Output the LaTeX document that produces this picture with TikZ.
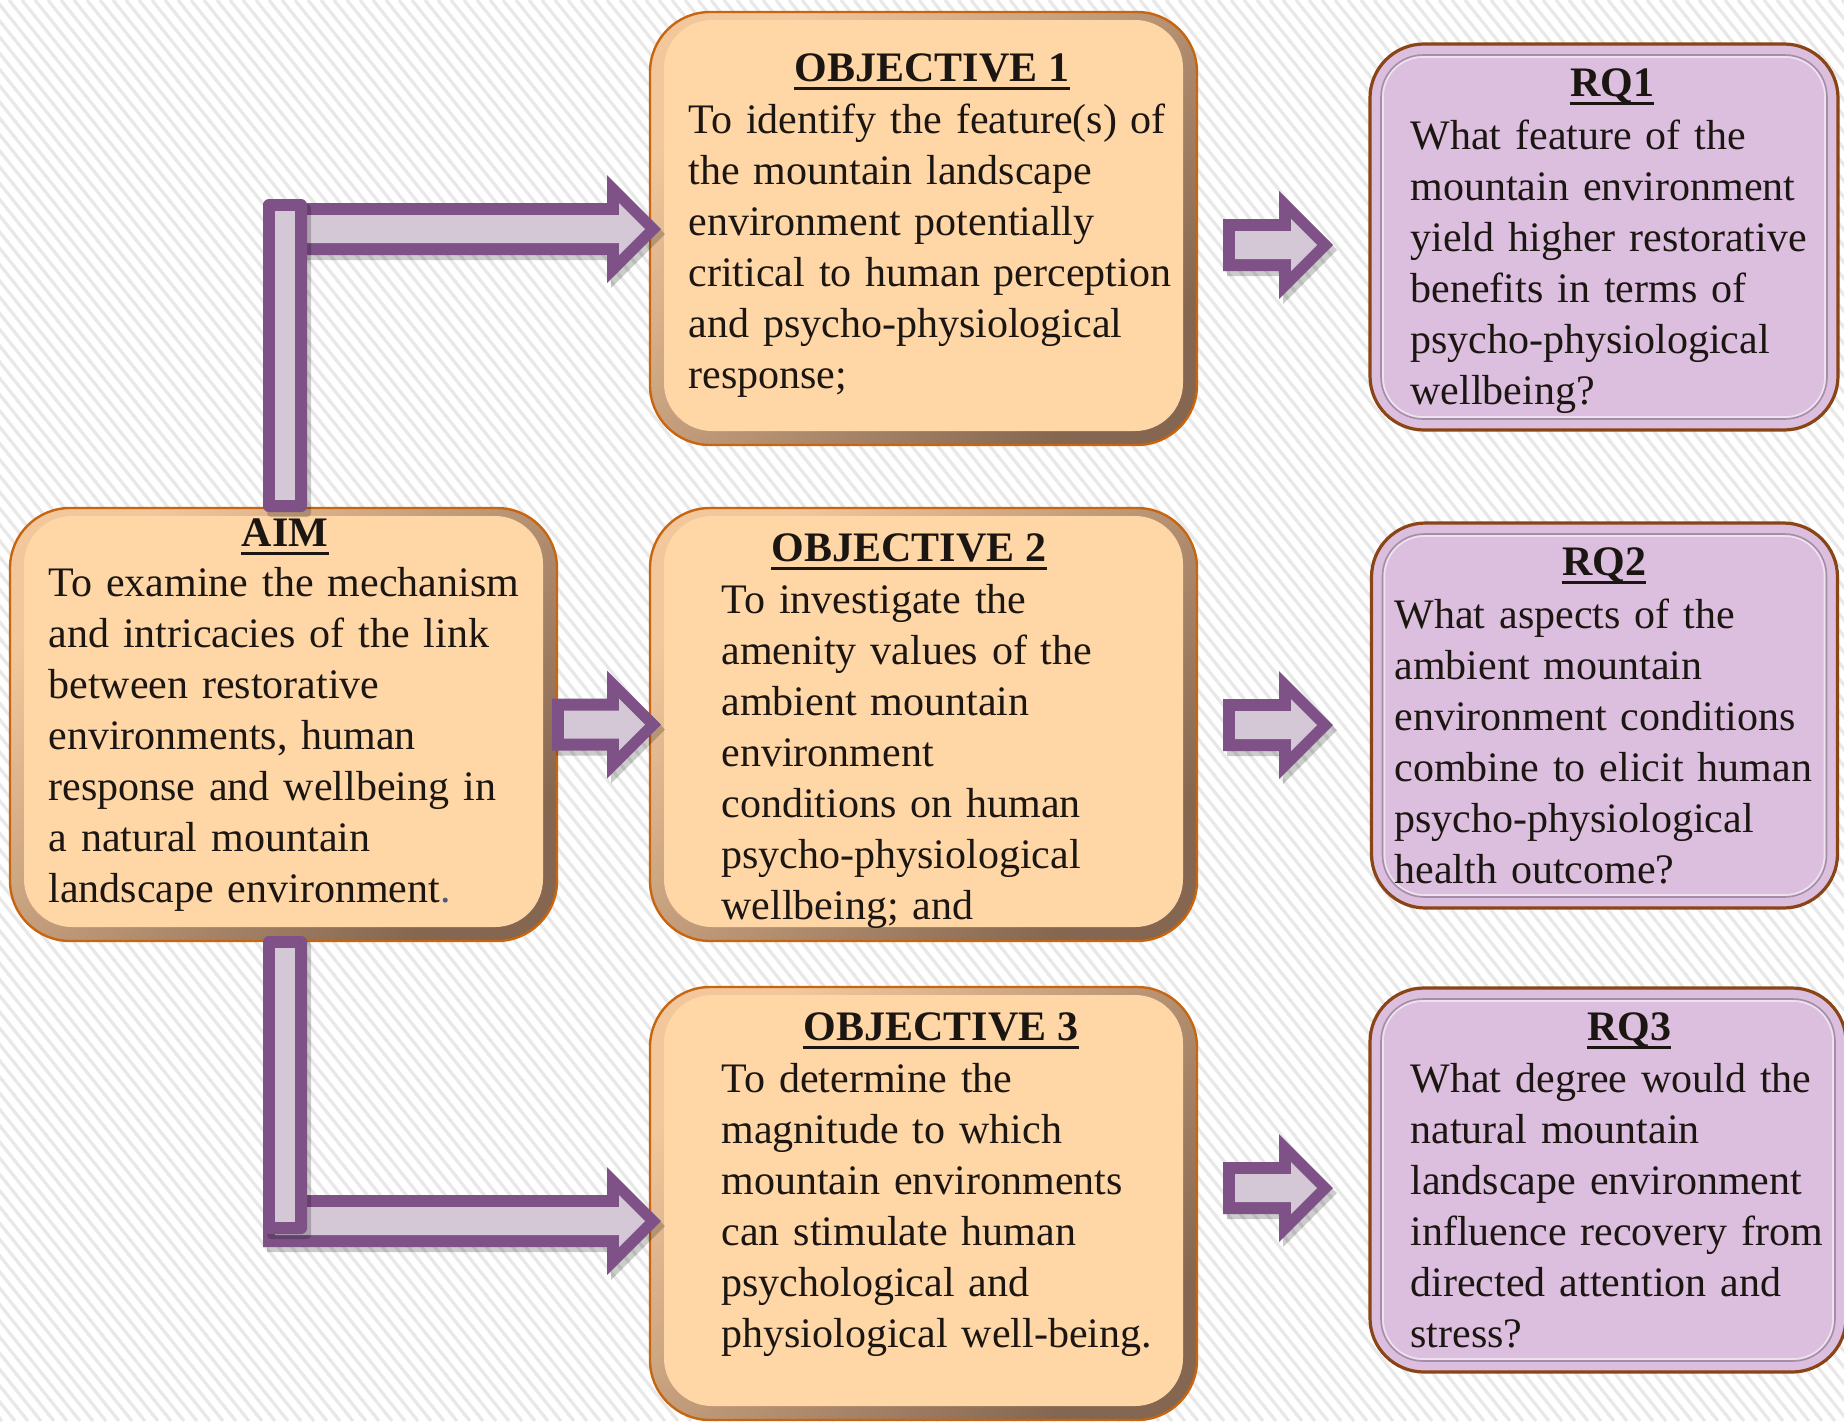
\documentclass[tikz,border=0pt]{standalone}
\usepackage{fontspec}
\setmainfont{Liberation Serif}
\usetikzlibrary{calc}
\definecolor{stripecol}{HTML}{E8E8E8}
\definecolor{face}{HTML}{FFD6A6}
\definecolor{objborder}{HTML}{C8650F}
\definecolor{bevL}{HTML}{F2C79C}
\definecolor{bevD}{HTML}{856650}
\definecolor{rqfill}{HTML}{DCBFDE}
\definecolor{rqborder}{HTML}{8A4516}
\definecolor{rqinner}{HTML}{A48EA6}
\definecolor{arrline}{HTML}{7E5187}
\definecolor{arrfill}{HTML}{D4C8D7}
\definecolor{ink}{HTML}{1C1612}
\definecolor{dotblue}{HTML}{4A5A7A}

\tikzset{
  stripeline/.style={draw=stripecol, line width=1.6pt},
  objshape/.style={rectangle, rounded corners=30pt, draw=objborder, line width=1.2pt,
     top color=bevL, bottom color=bevD, shading angle=45, outer sep=0pt, inner sep=0pt},
  objface/.style={fill=face, rounded corners=24pt},
  rqshape/.style={rectangle, rounded corners=27pt, draw=rqborder, line width=1.6pt,
     fill=rqfill, outer sep=0pt, inner sep=0pt},
  rqin/.style={draw=rqinner, line width=0.8pt, rounded corners=21pt},
  rqhl/.style={draw=white, opacity=.55, line width=0.8pt, rounded corners=20pt},
  bodytext/.style={anchor=base west, inner sep=0pt, align=left, text width=300pt,
     font=\fontsize{21}{25.5}\selectfont, text=ink},
  headtext/.style={anchor=base, inner sep=0pt, font=\fontsize{21}{25.5}\selectfont\bfseries, text=ink},
  uline/.style={draw=ink, line width=1.5pt},
  arrshadow/.style={fill=black, opacity=.2},
  arrout/.style={fill=arrline},
  arrin/.style={fill=arrfill},
}

% block arrow from start coordinate #1 to tip coordinate #2 (same height)
\newcommand\blockarrow[2]{%
  \fill[arrshadow] let \p1=(#1), \p2=(#2) in
    (\x1+2pt,\y1+10.5pt) -- (\x2-25pt,\y1+10.5pt) -- (\x2-25pt,\y1+24.5pt) -- (\x2+2pt,\y1-2.5pt)
    -- (\x2-25pt,\y1-29.5pt) -- (\x2-25pt,\y1-15.5pt) -- (\x1+2pt,\y1-15.5pt) -- cycle;
  \fill[arrout] let \p1=(#1), \p2=(#2) in
    (\x1,\y1+13pt) -- (\x2-27pt,\y1+13pt) -- (\x2-27pt,\y1+27pt) -- (\x2,\y1)
    -- (\x2-27pt,\y1-27pt) -- (\x2-27pt,\y1-13pt) -- (\x1,\y1-13pt) -- cycle;
  \fill[arrin] let \p1=(#1), \p2=(#2) in
    (\x1+6pt,\y1+7pt) -- (\x2-21pt,\y1+7pt) -- (\x2-21pt,\y1+13pt) -- (\x2-8pt,\y1)
    -- (\x2-21pt,\y1-13pt) -- (\x2-21pt,\y1-7pt) -- (\x1+6pt,\y1-7pt) -- cycle;
}
% vertical bar between coordinates #1 (top left) and #2 (bottom right)
\newcommand\vbarshape[2]{%
  \fill[arrshadow, rounded corners=2pt] ([shift={(2pt,-2.5pt)}]#1) rectangle ([shift={(2pt,-2.5pt)}]#2);
  \fill[arrout, rounded corners=3pt] (#1) rectangle (#2);
  \fill[arrin] ([shift={(6pt,-6pt)}]#1) rectangle ([shift={(-6pt,6pt)}]#2);
}
\newcommand\objfacefill[1]{%
  \fill[objface] ([xshift=7pt,yshift=-4pt]#1.north west) rectangle ([xshift=-7pt,yshift=7pt]#1.south east);
}
\newcommand\rqbevel[1]{%
  \draw[rqin] ([shift={(5.5pt,-5.5pt)}]#1.north west) rectangle ([shift={(-5.5pt,5.5pt)}]#1.south east);
  \draw[rqhl] ([shift={(6.5pt,-6.5pt)}]#1.north west) rectangle ([shift={(-6.5pt,6.5pt)}]#1.south east);
}
\newcommand\headul[1]{%
  \draw[uline] ([yshift=-3.5pt]#1.base west) -- ([yshift=-3.5pt]#1.base east);
}

\begin{document}
\begin{tikzpicture}[x=0.5pt,y=-0.5pt]
\useasboundingbox (0,0) rectangle (1844,1421);
% background
\fill[white] (0,0) rectangle (1844,1421);
\begin{scope}
  \clip (0,0) rectangle (1844,1421);
  \foreach \i in {-1200,-1187,...,1850} \draw[stripeline] (\i,0) -- (\i+1137,1421);
\end{scope}

% ---------- boxes ----------
\node[objshape, minimum width=273.5pt, minimum height=216.5pt] (aim)  at (283.5,724.5) {};
\node[objshape, minimum width=273.5pt, minimum height=216.5pt] (obj1) at (923.5,228.5) {};
\node[objshape, minimum width=273.5pt, minimum height=216.5pt] (obj2) at (923.5,724.5) {};
\node[objshape, minimum width=273.5pt, minimum height=216.5pt] (obj3) at (923.5,1203.5) {};
\objfacefill{aim}
\objfacefill{obj1}
\objfacefill{obj2}
\objfacefill{obj3}

\node[rqshape, minimum width=234pt, minimum height=193pt] (rq1) at (1604,237) {};
\node[rqshape, minimum width=233pt, minimum height=192.5pt] (rq2) at (1604.5,715.5) {};
\node[rqshape, minimum width=238pt, minimum height=192pt] (rq3) at (1608,1180) {};
\rqbevel{rq1}
\rqbevel{rq2}
\rqbevel{rq3}

% ---------- texts ----------
\node[headtext] (haim) at (285,546) {AIM};
\headul{haim}
\node[bodytext] (taim) at (48,596) {To examine the mechanism\\and intricacies of the link\\between restorative\\environments, human\\response and wellbeing in\\a natural mountain\\landscape environment{\color{dotblue}.}};

\node[headtext] (hobj1) at (932,81) {OBJECTIVE 1};
\headul{hobj1}
\node[bodytext] (tobj1) at (688,133) {To identify the feature(s) of\\the mountain landscape\\environment potentially\\critical to human perception\\and psycho-physiological\\response;};

\node[headtext] (hobj2) at (909,561) {OBJECTIVE 2};
\headul{hobj2}
\node[bodytext] (tobj2) at (721,613) {To investigate the\\amenity values of the\\ambient mountain\\environment\\conditions on human\\psycho-physiological\\wellbeing; and};

\node[headtext] (hobj3) at (941,1040) {OBJECTIVE 3};
\headul{hobj3}
\node[bodytext] (tobj3) at (721,1092) {To determine the\\magnitude to which\\mountain environments\\can stimulate human\\psychological and\\physiological well-being.};

\node[headtext] (hrq1) at (1612,96) {RQ1};
\headul{hrq1}
\node[bodytext] (trq1) at (1410,149) {What feature of the\\mountain environment\\yield higher restorative\\benefits in terms of\\psycho-physiological\\wellbeing?};

\node[headtext] (hrq2) at (1604,575) {RQ2};
\headul{hrq2}
\node[bodytext] (trq2) at (1394,628) {What aspects of the\\ambient mountain\\environment conditions\\combine to elicit human\\psycho-physiological\\health outcome?};

\node[headtext] (hrq3) at (1629,1040) {RQ3};
\headul{hrq3}
\node[bodytext] (trq3) at (1410,1092) {What degree would the\\natural mountain\\landscape environment\\influence recovery from\\directed attention and\\stress?};

% ---------- block arrows ----------
\coordinate (c1s) at (263,229);
\coordinate (c1e) at (661,229);
\coordinate (c2s) at ($(aim.east)+(-5,0)$);
\coordinate (c2e) at ($(obj2.west)+(11,0)$);
\coordinate (c3s) at (263,1221);
\coordinate (c3e) at (661,1221);
\blockarrow{c1s}{c1e}
\blockarrow{c2s}{c2e}
\blockarrow{c3s}{c3e}
\coordinate (b1t) at (263,199);
\coordinate (b1b) at (307,512);
\coordinate (b2t) at (263,936);
\coordinate (b2b) at (307,1234);
\vbarshape{b1t}{b1b}
\vbarshape{b2t}{b2b}

\coordinate (r1s) at (1223,245);
\coordinate (r1e) at (1333,245);
\coordinate (r2s) at (1223,725);
\coordinate (r2e) at (1333,725);
\coordinate (r3s) at (1223,1188);
\coordinate (r3e) at (1333,1188);
\blockarrow{r1s}{r1e}
\blockarrow{r2s}{r2e}
\blockarrow{r3s}{r3e}
\end{tikzpicture}
\end{document}
